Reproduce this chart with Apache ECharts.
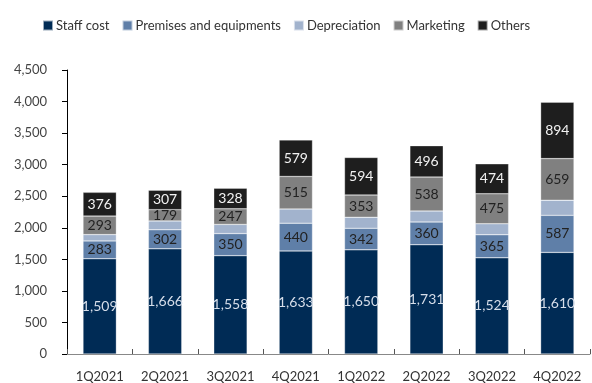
<!DOCTYPE html>
<html><head><meta charset="utf-8">
<script src="https://cdn.jsdelivr.net/npm/echarts@6/dist/echarts.min.js"></script>
<style>html,body{margin:0;padding:0;background:#fff}#c{width:592px;height:383px}</style>
</head><body><div id="c"></div>
<script>
const categories = ['1Q2021','2Q2021','3Q2021','4Q2021','1Q2022','2Q2022','3Q2022','4Q2022'];
const staffCost = [1509,1666,1558,1633,1650,1731,1524,1610];
const premises = [283,302,350,440,342,360,365,587];
const depreciation = [100,140,145,225,175,175,175,240];
const marketing = [293,179,247,515,353,538,475,659];
const others = [376,307,328,579,594,496,474,894];
const yTicks = [0,500,1000,1500,2000,2500,3000,3500,4000,4500];

const FONT = 'Lato';
function mk(name, data, color, labelColor, showLabel) {
  return {
    name, type: 'bar', stack: 'total', data, barWidth: '51%',
    itemStyle: { color, borderColor: 'rgba(255,255,255,0.6)', borderWidth: 0.5 },
    label: {
      show: showLabel, position: 'inside', color: labelColor,
      fontFamily: FONT, fontSize: 14,
      formatter: p => p.value.toLocaleString('en-US')
    }
  };
}
const chart = echarts.init(document.getElementById('c'), null, {renderer:'canvas'});
chart.setOption({
  animation: false,
  textStyle: { fontFamily: FONT },
  legend: {
    top: 14, left: 37, itemWidth: 10, itemHeight: 10, itemGap: 12,
    icon: 'rect',
    textStyle: { fontFamily: FONT, fontSize: 13, color: '#333', padding: [0,0,0,-2] },
    data: ['Staff cost','Premises and equipments','Depreciation','Marketing','Others']
  },
  grid: { left: 67, right: 2, top: 70, bottom: 29, containLabel: false },
  xAxis: {
    type: 'category', data: categories,
    axisLine: { lineStyle: { color: '#888', width: 1 } },
    axisTick: { show: true, inside: true, length: 5, lineStyle: { color: '#555' } },
    axisLabel: { fontFamily: FONT, fontSize: 13, color: '#333', margin: 16 }
  },
  yAxis: {
    type: 'value', min: 0, max: 4500, interval: 500,
    axisLine: { show: true, lineStyle: { color: '#000', width: 1 } },
    axisTick: { show: true, length: 5, lineStyle: { color: '#000' } },
    splitLine: { show: false },
    axisLabel: {
      fontFamily: FONT, fontSize: 13, color: '#444', margin: 20,
      formatter: v => yTicks.includes(v) ? v.toLocaleString('en-US') : ''
    }
  },
  series: [
    mk('Staff cost', staffCost, '#002B55', '#d6deea', true),
    mk('Premises and equipments', premises, '#5F7FA8', '#222', true),
    mk('Depreciation', depreciation, '#A2B3CD', '#222', false),
    mk('Marketing', marketing, '#808080', '#222', true),
    mk('Others', others, '#1E1E1E', '#f2f2f2', true)
  ]
});
</script></body></html>
